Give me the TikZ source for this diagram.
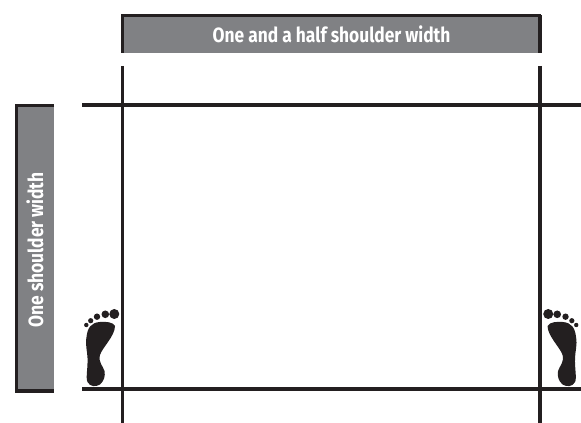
\documentclass[tikz,border=0pt]{standalone}
\usepackage{fontspec}
\setmainfont{Liberation Sans}
\newfontfamily\barfont[FakeStretch=0.84]{Fira Sans Bold}
\definecolor{bargray}{HTML}{808184}
\definecolor{inkblack}{HTML}{231F20}
\tikzset{
  gridline/.style={draw=inkblack,line width=2.6pt},
  barline/.style={draw=inkblack,line width=2.6pt},
  barlabel/.style={text=white,font=\barfont\fontsize{15.5}{18}\selectfont},
  pics/foot/.style={code={
    \fill[inkblack] (115,326) .. controls (113,322) and (106,321.5) .. (100,322)
      .. controls (91,322.5) and (87.5,328) .. (86.5,337)
      .. controls (85,345) and (87.5,352) .. (87.5,358)
      .. controls (88,368) and (85.5,378) .. (87.5,382)
      .. controls (90,387) and (96,387) .. (100,384.5)
      .. controls (104,381) and (105.5,376) .. (104.5,371)
      .. controls (103,366) and (98,362) .. (100,355)
      .. controls (102,348) and (115,336) .. cycle;
    \fill[inkblack] (114.3,314) circle (5) (105.3,314.3) circle (3.8)
      (97,316.7) circle (3.2) (90.7,320.7) circle (2.6) (86.3,325) circle (2.2);
  }}
}

\begin{document}
\begin{tikzpicture}[x=0.75pt,y=-0.75pt]
  \useasboundingbox (0,0) rectangle (581,423);
  % top bar
  \fill[bargray] (122,15) rectangle (541,53);
  \draw[barline] (122.5,53) -- (122.5,15.5) -- (541,15.5);
  \draw[barline] (540,15.5) -- (540,53);
  \node[barlabel] (widthlabel) at (331.5,34) {One and a half shoulder width};
  % side bar
  \fill[bargray] (16,105) rectangle (54,392);
  \draw[barline] (54,105.5) -- (16.5,105.5) -- (16.5,391) -- (54,391);
  \node[barlabel,rotate=90] (heightlabel) at (35,250) {One shoulder width};
  % grid
  \draw[gridline] (122.5,66) -- (122.5,423);
  \draw[gridline] (540,66) -- (540,423);
  \draw[gridline] (82,105) -- (581,105);
  \draw[gridline] (82,389) -- (581,389);
  % feet
  \pic {foot};
  \pic[xshift=496.9pt,xscale=-1] {foot};
\end{tikzpicture}
\end{document}
